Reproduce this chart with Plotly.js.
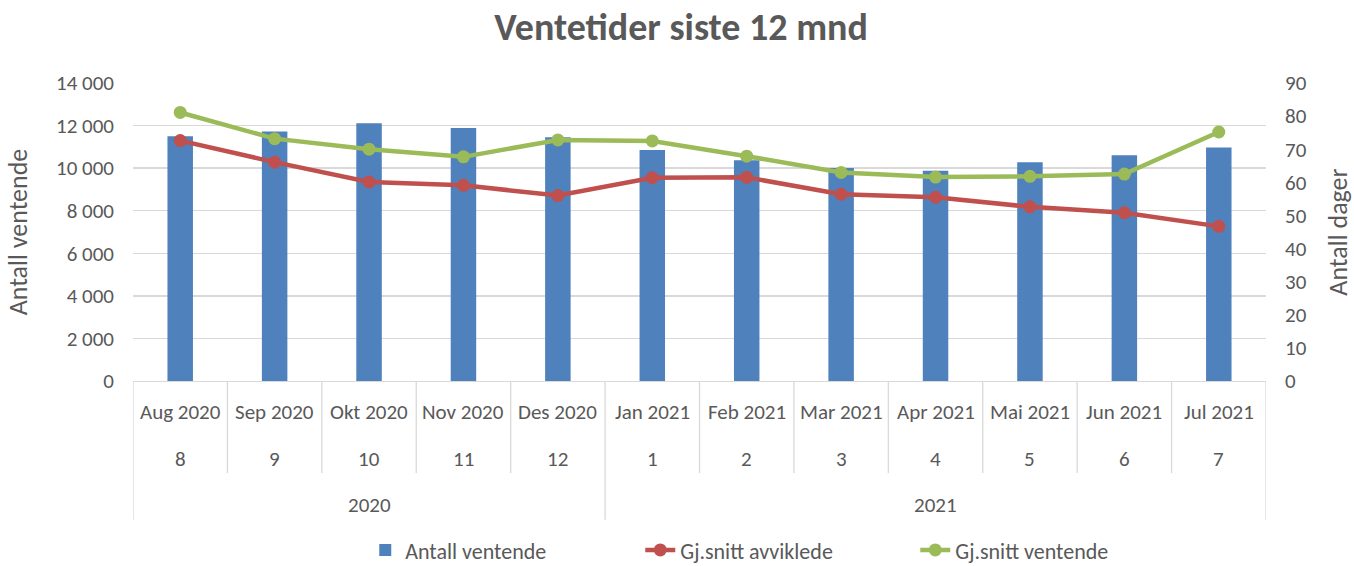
<!DOCTYPE html>
<html>
<head>
<meta charset="utf-8">
<script src="https://cdn.plot.ly/plotly-3.0.1.min.js"></script>
<style>html,body{margin:0;padding:0;background:#fff;}#chart{width:1354px;height:566px;}</style>
</head>
<body>
<div id="chart"></div>
<script>
var monthLabels = ["Aug 2020","Sep 2020","Okt 2020","Nov 2020","Des 2020","Jan 2021","Feb 2021","Mar 2021","Apr 2021","Mai 2021","Jun 2021","Jul 2021"];
var monthNumbers = ["8","9","10","11","12","1","2","3","4","5","6","7"];
var years = ["2020","2021"];
var yearSpans = [[0,4],[5,11]];
var antallVentende = [11500,11720,12110,11890,11450,10850,10370,10010,9880,10280,10600,10970];
var snittAvviklede = [72.6,66.1,60.1,59.1,56.0,61.4,61.5,56.4,55.5,52.6,50.8,46.7];
var snittVentende = [81.1,73.2,70.0,67.7,72.8,72.5,67.9,63.0,61.6,61.8,62.5,75.2];

var FONT = "Carlito, Calibri, Lato, 'Open Sans', sans-serif";
var GRAY = "#595959";
var LINE = "#d9d9d9";

var traces = [
  {type:"bar", name:"Antall ventende", x:monthLabels, y:antallVentende, marker:{color:"#4F81BD"}, yaxis:"y"},
  {type:"scatter", mode:"lines+markers", name:"Gj.snitt avviklede", x:monthLabels, y:snittAvviklede, yaxis:"y2",
   line:{color:"#C0504D", width:4.5}, marker:{color:"#C0504D", size:13}},
  {type:"scatter", mode:"lines+markers", name:"Gj.snitt ventende", x:monthLabels, y:snittVentende, yaxis:"y2",
   line:{color:"#9BBB59", width:4.5}, marker:{color:"#9BBB59", size:13}}
];

var annotations = [];
var shapes = [];
var rowMonth = -0.104, rowNum = -0.262, rowYear = -0.416;
monthLabels.forEach(function(m,i){
  annotations.push({x:m, xref:"x", y:rowMonth, yref:"paper", yanchor:"middle", text:m, showarrow:false, font:{family:FONT,size:21,color:GRAY}});
  annotations.push({x:m, xref:"x", y:rowNum, yref:"paper", yanchor:"middle", text:monthNumbers[i], showarrow:false, font:{family:FONT,size:21,color:GRAY}});
});
years.forEach(function(y,k){
  var c = (yearSpans[k][0]+yearSpans[k][1])/2;
  annotations.push({x:c, xref:"x", y:rowYear, yref:"paper", yanchor:"middle", text:y, showarrow:false, font:{family:FONT,size:21,color:GRAY}});
});
var shortEnd = -0.309, longEnd = -0.466;
for (var i=0;i<=monthLabels.length;i++){
  var pos = i-0.5;
  var isYearEdge = (i===0 || i===monthLabels.length || yearSpans.some(function(s){return s[0]===i;}));
  shapes.push({type:"line", xref:"x", yref:"paper", x0:pos, x1:pos, y0:0, y1:isYearEdge?longEnd:shortEnd, line:{color:LINE,width:1.3}});
}

var layout = {
  width:1354, height:566,
  margin:{l:133, r:88, t:83, b:185},
  paper_bgcolor:"#fff", plot_bgcolor:"#fff",
  separators:", ",
  font:{family:FONT, color:GRAY, size:21},
  title:{text:"<b>Ventetider siste 12 mnd</b>", x:0.503, xanchor:"center", y:0.952, yanchor:"middle", font:{family:FONT,size:38,color:GRAY}},
  bargap:0.73,
  showlegend:true,
  legend:{orientation:"h", x:0.205, xanchor:"left", yref:"container", y:0.028, yanchor:"middle", font:{family:FONT,size:22,color:GRAY}, entrywidth:230, entrywidthmode:"pixels", traceorder:"normal", tracegroupgap:0},
  xaxis:{type:"category", showticklabels:false, ticks:"", showgrid:false, showline:true, linecolor:LINE, linewidth:1.3, zeroline:false, range:[-0.5,11.5], fixedrange:true},
  yaxis:{range:[0,14000], dtick:2000, tickformat:",d", showgrid:true, gridcolor:LINE, gridwidth:1.3, zeroline:false, showline:false,
         ticks:"", ticklabelstandoff:18, tickfont:{family:FONT,size:21,color:GRAY},
         title:{text:"Antall ventende", font:{family:FONT,size:26,color:GRAY}, standoff:20}},
  yaxis2:{range:[0,90], dtick:10, overlaying:"y", side:"right", showgrid:false, zeroline:false, showline:false,
          ticks:"", ticklabelstandoff:18, tickfont:{family:FONT,size:21,color:GRAY},
          title:{text:"Antall dager", font:{family:FONT,size:26,color:GRAY}, standoff:24}},
  annotations:annotations,
  shapes:shapes
};

Plotly.newPlot("chart", traces, layout, {displayModeBar:false, staticPlot:true});
</script>
</body>
</html>
